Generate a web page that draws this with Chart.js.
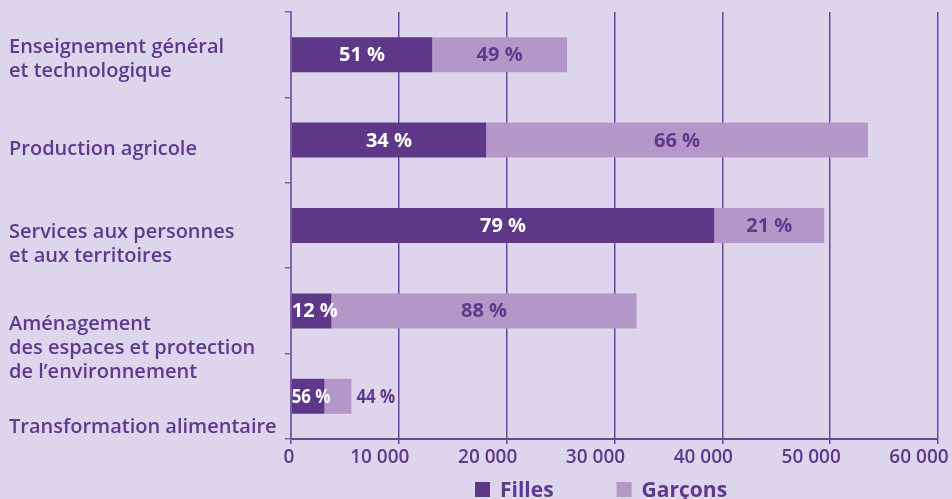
<!DOCTYPE html>
<html><head><meta charset="utf-8">
<script src="https://cdn.jsdelivr.net/npm/chart.js@4.4.1/dist/chart.umd.min.js"></script>
<style>html,body{margin:0;padding:0;background:#ddd5ec;}#wrap{width:952px;height:499px;position:relative;}</style>
</head><body><div id="wrap"><canvas id="c"></canvas></div>
<script>
const categories = [
  ["Enseignement général", "et technologique"],
  ["Production agricole"],
  ["Services aux personnes", "et aux territoires"],
  ["Aménagement", "des espaces et protection", "de l’environnement"],
  ["Transformation alimentaire"]
];
const seriesNames = ["Filles", "Garçons"];
const filles = [13100, 18100, 39250, 3750, 3100];
const garcons = [12500, 35400, 10200, 28300, 2500];
const fillesPct = [51, 34, 79, 12, 56];
const garconsPct = [49, 66, 21, 88, 44];
const xMin = 0, xMax = 60000, xStep = 10000;

const BG = '#ddd5ec', DARK = '#5e3788', LIGHT = '#b397c8', TEXT = '#5e3a8c', GRID = '#6b47a0', AXIS = '#8262b0';
const FONT = '"Open Sans", "Noto Sans", sans-serif';
const fmt = v => String(v).replace(/\B(?=(\d{3})+(?!\d))/g, ' ');

const bgPlugin = { id: 'bg', beforeDraw(chart) { const c = chart.ctx; c.save(); c.fillStyle = BG; c.fillRect(0, 0, chart.width, chart.height); c.restore(); } };

const catLabels = { id: 'catLabels', afterDraw(chart, args, o) {
  const c = chart.ctx, y = chart.scales.y;
  c.save(); c.font = '600 20px ' + FONT; c.fillStyle = TEXT; c.textAlign = 'left'; c.textBaseline = 'alphabetic';
  categories.forEach((lines, i) => {
    const yc = y.getPixelForValue(i);
    lines.forEach((t, k) => c.fillText(t, o.x, yc + o.offsets[i] + k * o.lineHeight));
  });
  c.restore();
}};

const xLabels = { id: 'xLabels', afterDraw(chart, args, o) {
  const c = chart.ctx, x = chart.scales.x;
  c.save(); c.font = '600 19px ' + FONT; c.fillStyle = TEXT; c.textAlign = 'center'; c.textBaseline = 'alphabetic';
  x.ticks.forEach(t => {
    const px = x.getPixelForValue(t.value);
    c.fillText(fmt(t.value), px + (t.value === 0 ? o.zeroShift : o.shift), chart.chartArea.bottom + o.dy);
  });
  c.restore();
}};

const pctSeries = [fillesPct, garconsPct];
const dataLabels = { id: 'dataLabels', afterDatasetsDraw(chart, args, o) {
  const c = chart.ctx;
  c.save(); c.font = 'bold 20px ' + FONT; c.textBaseline = 'alphabetic';
  chart.data.datasets.forEach((ds, d) => {
    const meta = chart.getDatasetMeta(d);
    meta.data.forEach((el, i) => {
      const txt = pctSeries[d][i] + ' %';
      const sx = o.condensedRows.includes(i) ? o.condensed : 1;
      const w = c.measureText(txt).width * sx;
      const a = Math.min(el.base, el.x), b = Math.max(el.base, el.x);
      let left, color = d === 0 ? '#ffffff' : TEXT;
      if (w <= b - a - 4) left = (a + b) / 2 - w / 2;
      else if (d === 0) left = a;
      else { left = b + 5; color = TEXT; }
      c.fillStyle = color;
      c.save(); c.translate(left, el.y + 6.5); c.scale(sx, 1); c.textAlign = 'left'; c.fillText(txt, 0, 0); c.restore();
    });
  });
  c.restore();
}};

const legendPlugin = { id: 'customLegend', afterDraw(chart, args, o) {
  const c = chart.ctx;
  c.save(); c.font = 'bold 21px ' + FONT; c.textBaseline = 'alphabetic'; c.textAlign = 'left';
  let x = chart.chartArea.left + o.startX;
  const yb = chart.height - o.bottom;
  chart.data.datasets.forEach(ds => {
    c.fillStyle = ds.backgroundColor;
    c.fillRect(x, yb - o.box, o.box, o.box);
    c.fillStyle = TEXT;
    c.fillText(ds.label, x + o.box + o.gap, yb);
    x += o.box + o.gap + c.measureText(ds.label).width + o.itemGap;
  });
  c.restore();
}};

function build() {
  new Chart(document.getElementById('c'), {
    type: 'bar',
    data: {
      labels: categories,
      datasets: [
        { label: seriesNames[0], data: filles, backgroundColor: DARK, borderWidth: 0, barPercentage: 0.41, categoryPercentage: 1 },
        { label: seriesNames[1], data: garcons, backgroundColor: LIGHT, borderWidth: 0, barPercentage: 0.41, categoryPercentage: 1 }
      ]
    },
    options: {
      indexAxis: 'y', responsive: true, maintainAspectRatio: false, animation: false,
      layout: { padding: { left: 0, right: 14, top: 12, bottom: 0 } },
      plugins: {
        legend: { display: false }, tooltip: { enabled: false },
        catLabels: { x: 9, lineHeight: 24, offsets: [-1.7, 14.9, 12.5, 19.1, 36.7] },
        xLabels: { shift: -19, zeroShift: -2, dy: 24 },
        dataLabels: { condensedRows: [4], condensed: 0.84 },
        customLegend: { startX: 184, bottom: 2, box: 15, gap: 10, itemGap: 63 }
      },
      scales: {
        x: { stacked: true, min: xMin, max: xMax, ticks: { stepSize: xStep, display: false },
             grid: { color: GRID, lineWidth: 1.5, tickLength: 5, drawTicks: true },
             border: { color: GRID, width: 2 }, afterFit(s) { s.height = 60; } },
        y: { stacked: true, ticks: { display: false },
             grid: { drawOnChartArea: false, tickLength: 6, color: AXIS, lineWidth: 1.5, offset: true },
             border: { color: AXIS, width: 2 }, afterFit(s) { s.width = 291; } }
      }
    },
    plugins: [bgPlugin, catLabels, xLabels, dataLabels, legendPlugin]
  });
}
Promise.all([
  document.fonts.load('600 20px "Open Sans"'),
  document.fonts.load('bold 20px "Open Sans"')
]).then(build, build);
</script></body></html>
